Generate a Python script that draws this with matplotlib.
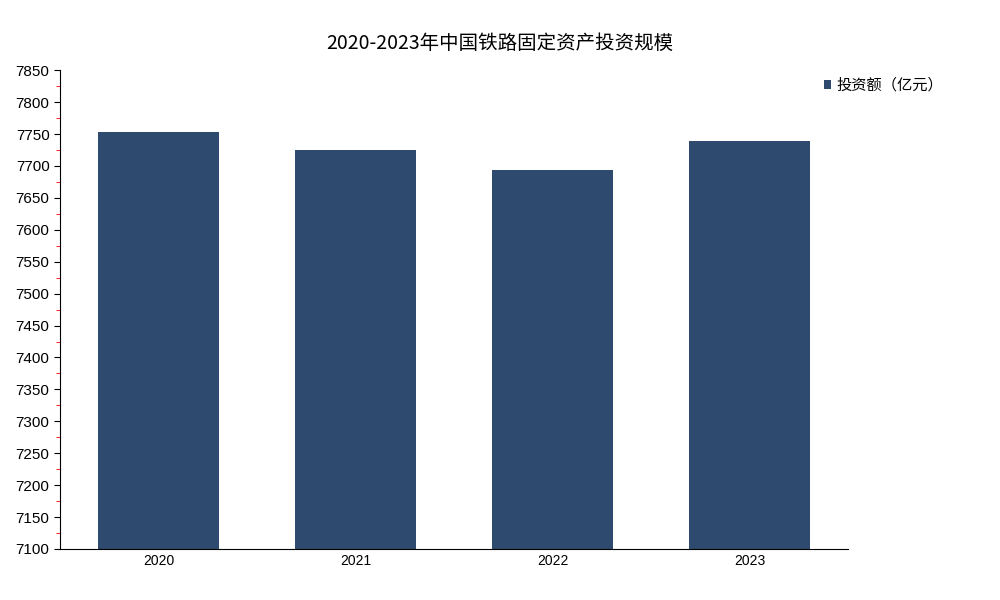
import matplotlib.pyplot as plt
from matplotlib.ticker import MultipleLocator

plt.rcParams['font.family'] = ['Noto Sans CJK SC', 'DejaVu Sans']

years = ['2020', '2021', '2022', '2023']
invest = [7753, 7725, 7693, 7739]

fig = plt.figure(figsize=(10, 6), dpi=100)
ax = fig.add_axes([0.06, 0.085, 0.788, 0.798])

x = range(len(years))
ax.bar(x, invest, width=0.61, color='#2e4a6e', label='投资额（亿元）')
ax.set_xlim(-0.5, len(years) - 0.5)
ax.set_xticks(list(x))
ax.set_xticklabels(years, fontsize=10, family='Liberation Sans')
ax.set_ylim(7100, 7850)
ax.yaxis.set_major_locator(MultipleLocator(50))
ax.yaxis.set_minor_locator(MultipleLocator(25))
ax.tick_params(axis='y', which='minor', color='red', length=3, direction='out')
ax.tick_params(axis='y', which='major', length=4, labelsize=11)
ax.tick_params(axis='x', length=0)
for lab in ax.get_yticklabels():
    lab.set_family('Liberation Sans')
ax.spines['top'].set_visible(False)
ax.spines['right'].set_visible(False)

fig.suptitle('2020-2023年中国铁路固定资产投资规模', x=0.5, y=0.945, fontsize=14)
fig.legend(loc='upper left', bbox_to_anchor=(0.81, 0.895), frameon=False,
           handlelength=0.5, handleheight=0.5, handletextpad=0.3, fontsize=11)

fig.savefig('out.png')
